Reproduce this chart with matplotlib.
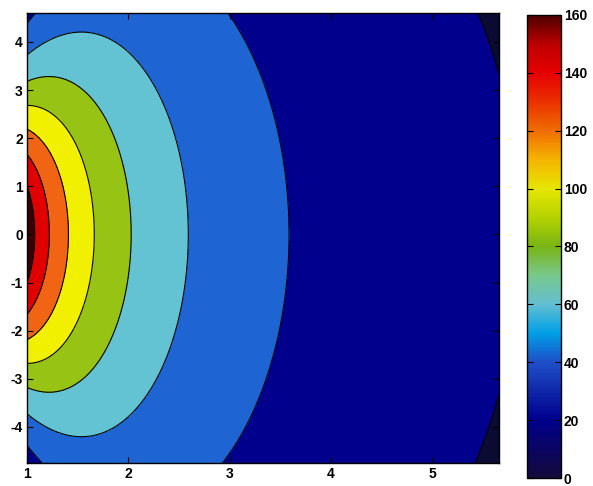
import numpy as np
import matplotlib
matplotlib.use('Agg')
import matplotlib.pyplot as plt
from matplotlib.colors import LinearSegmentedColormap, Normalize
from matplotlib.cm import ScalarMappable

plt.rcParams['font.family'] = ['Liberation Sans', 'DejaVu Sans']
plt.rcParams['axes.unicode_minus'] = False

# contour levels and ticks
levels = [0, 20, 40, 60, 80, 100, 120, 140, 160]
cbar_ticks = [0, 20, 40, 60, 80, 100, 120, 140, 160]
x_ticks = [1, 2, 3, 4, 5]
y_ticks = [-4, -3, -2, -1, 0, 1, 2, 3, 4]
x_range = (1.0, 5.66)
y_range = (-4.75, 4.6)

# where each contour crosses the centre line y = 0
centre_lev = [160, 140, 120, 100, 80, 60, 40]
centre_x = [1.08, 1.23, 1.42, 1.67, 2.01, 2.56, 3.52]

# where each contour meets the left edge x = 1
edge_lev = [160, 140, 120, 100, 80, 60, 40]
edge_y = [1.1, 1.55, 2.14, 2.62, 3.17, 3.77, 4.42]

# more points picked along the contours
extra_lev = [100, 100, 80, 80, 80, 80, 60, 60, 60, 60, 60, 60,
             40, 40, 40, 40, 40, 20, 20]
extra_x = [1.64, 1.52, 2.00, 1.92, 1.55, 1.26, 2.54, 2.48, 2.34, 2.21, 1.92,
           1.49, 3.47, 3.36, 3.21, 2.96, 1.16, 5.50, 5.66]
extra_y = [1.00, 2.00, 1.00, 2.00, 3.00, 3.24, 1.00, 2.00, 3.00, 3.26, 3.78,
           4.09, 2.00, 3.00, 4.00, 4.59, 4.75, 4.65, 3.20]

# colorbar colours
cbar_vals = [0, 20, 40, 50, 60, 70, 80, 90, 100, 110, 120, 130, 140, 150, 160]
cbar_cols = ['#140a3c', '#00008c', '#1e50c8', '#00a0e6', '#64bed2', '#78c88c',
             '#78b414', '#b4d200', '#e6e600', '#f5b400', '#f06e00', '#eb3200',
             '#e60000', '#be0000', '#500000']

# fill colour of each band (lowest level of the band, as in the scan)
band_cols = ['#0a0a32', '#00008c', '#1e64d2', '#64c3d2', '#96c314',
             '#f0f000', '#f06414', '#e10000', '#3c0000']


def terms(x, y):
    return [np.ones_like(x), -x, -np.log(x), -y ** 2, -(y / x) ** 2]


# least squares fit of log(f) to the read contour points
lev = np.array(centre_lev + edge_lev + extra_lev, float)
px = np.array(centre_x + [1.0] * len(edge_lev) + extra_x)
py = np.array([0.0] * len(centre_lev) + edge_y + extra_y)
coef = np.linalg.lstsq(np.column_stack(terms(px, py)), np.log(lev), rcond=None)[0]

xg = np.linspace(x_range[0], x_range[1], 400)
yg = np.linspace(y_range[0], y_range[1], 400)
X, Y = np.meshgrid(xg, yg)
Z = np.exp(sum(c * t for c, t in zip(coef, terms(X, Y))))

fig = plt.figure(figsize=(5.93, 4.86), dpi=100)
ax = fig.add_axes([27 / 593, 1 - 463 / 486, 472 / 593, 450 / 486])
cax = fig.add_axes([527 / 593, 1 - 478 / 486, 34 / 593, 463 / 486])

fill_levels = levels + [max(Z.max(), levels[-1]) + 1]
ax.contourf(X, Y, Z, levels=fill_levels, colors=band_cols)
ax.contour(X, Y, Z, levels=levels[1:], colors='black', linewidths=0.8)
ax.set_xlim(*x_range)
ax.set_ylim(*y_range)
ax.set_xticks(x_ticks)
ax.set_yticks(y_ticks)
ax.tick_params(direction='in', top=True, right=True, length=4, width=0.8,
               labelsize=10, pad=3)
for lab in ax.get_xticklabels() + ax.get_yticklabels():
    lab.set_fontweight('bold')
for s in ax.spines.values():
    s.set_linewidth(1.0)

cmap = LinearSegmentedColormap.from_list(
    'scan_jet', [(v / 160, c) for v, c in zip(cbar_vals, cbar_cols)])
sm = ScalarMappable(norm=Normalize(0, 160), cmap=cmap)
cb = fig.colorbar(sm, cax=cax, ticks=cbar_ticks)
cb.outline.set_linewidth(1.0)
cax.tick_params(direction='in', left=True, right=True, length=4, width=0.8,
                labelsize=10, pad=2)
for lab in cax.get_yticklabels():
    lab.set_fontweight('bold')

fig.savefig('out.png', dpi=100)
